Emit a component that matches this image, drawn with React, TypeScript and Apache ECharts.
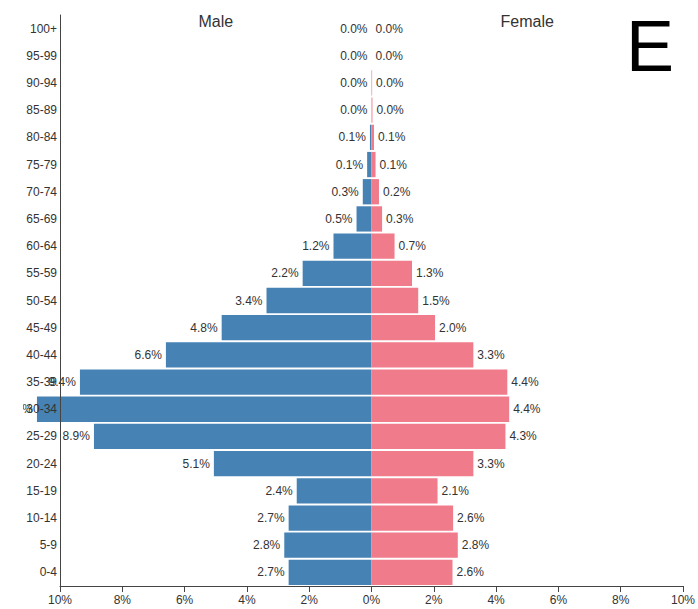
import React, { useEffect, useRef } from "react";
import * as echarts from "echarts";

const categories = [
  "0-4", "5-9", "10-14", "15-19", "20-24", "25-29", "30-34", "35-39", "40-44", "45-49",
  "50-54", "55-59", "60-64", "65-69", "70-74", "75-79", "80-84", "85-89", "90-94", "95-99", "100+",
];
const maleValues = [
  2.66, 2.8, 2.66, 2.4, 5.06, 8.91, 10.74, 9.36, 6.6, 4.81,
  3.37, 2.21, 1.22, 0.48, 0.28, 0.14, 0.05, 0.0, 0.0, 0.0, 0.0,
];
const femaleValues = [
  2.6, 2.77, 2.62, 2.12, 3.27, 4.3, 4.42, 4.36, 3.27, 2.04,
  1.5, 1.3, 0.74, 0.34, 0.24, 0.13, 0.08, 0.03, 0.02, 0.0, 0.0,
];
const xTicks = { min: -10, max: 10, interval: 2 };
const titles = { male: "Male", female: "Female", panel: "E" };

const FONT = "'Liberation Sans', Arial, sans-serif";
const OFFSET_LEFT = 23;

export default function App() {
  const ref = useRef<HTMLDivElement>(null);
  useEffect(() => {
    if (!ref.current) return;
    const chart = echarts.init(ref.current, null, { renderer: "svg" });
    const gridLeft = 60 - OFFSET_LEFT;
    const gridWidth = 623;
    chart.setOption({
      animation: false,
      textStyle: { fontFamily: FONT },
      grid: { left: gridLeft, top: 15, width: gridWidth, height: 571, containLabel: false },
      xAxis: {
        type: "value",
        min: xTicks.min,
        max: xTicks.max,
        interval: xTicks.interval,
        axisLine: { show: true, lineStyle: { color: "#444", width: 1 } },
        axisTick: { show: true, length: 6, lineStyle: { color: "#444" } },
        axisLabel: {
          formatter: (v: number) => Math.abs(v) + "%",
          fontSize: 12,
          color: "#333",
          margin: 8,
          fontFamily: FONT,
        },
        splitLine: { show: false },
      },
      yAxis: {
        type: "category",
        data: categories,
        z: 5,
        axisLine: { show: true, onZero: false, lineStyle: { color: "#444", width: 1 } },
        axisTick: { show: false },
        axisLabel: { fontSize: 12, color: "#333", margin: 3, fontFamily: FONT },
        splitLine: { show: false },
      },
      series: [
        {
          name: "Male",
          type: "bar",
          data: maleValues.map((v) => -v),
          barCategoryGap: "7%",
          barGap: "-100%",
          clip: false,
          itemStyle: { color: "#4682b4" },
          label: {
            show: true,
            position: "left",
            distance: 4,
            fontSize: 12,
            color: "#333",
            fontFamily: FONT,
            formatter: (p: any) => Math.abs(p.value).toFixed(1) + "%",
          },
        },
        {
          name: "Female",
          type: "bar",
          data: femaleValues,
          barCategoryGap: "7%",
          barGap: "-100%",
          clip: false,
          itemStyle: { color: "#ef7b8b" },
          label: {
            show: true,
            position: "right",
            distance: 4,
            fontSize: 12,
            color: "#333",
            fontFamily: FONT,
            formatter: (p: any) => Number(p.value).toFixed(1) + "%",
          },
        },
      ],
      graphic: [
        {
          type: "text",
          x: gridLeft + gridWidth / 4,
          y: 21,
          style: {
            text: titles.male,
            fontSize: 16,
            fill: "#333",
            fontFamily: FONT,
            textAlign: "center",
            textVerticalAlign: "middle",
          },
        },
        {
          type: "text",
          x: gridLeft + (gridWidth * 3) / 4,
          y: 21,
          style: {
            text: titles.female,
            fontSize: 16,
            fill: "#333",
            fontFamily: FONT,
            textAlign: "center",
            textVerticalAlign: "middle",
          },
        },
        {
          type: "text",
          x: 603,
          y: 46,
          style: {
            text: titles.panel,
            fontSize: 72,
            fill: "#000",
            fontFamily: FONT,
            textAlign: "left",
            textVerticalAlign: "middle",
          },
        },
      ],
    });
    return () => chart.dispose();
  }, []);
  return (
    <div
      ref={ref}
      style={{ position: "absolute", left: OFFSET_LEFT, top: 0, width: 698 - OFFSET_LEFT, height: 609 }}
    />
  );
}
